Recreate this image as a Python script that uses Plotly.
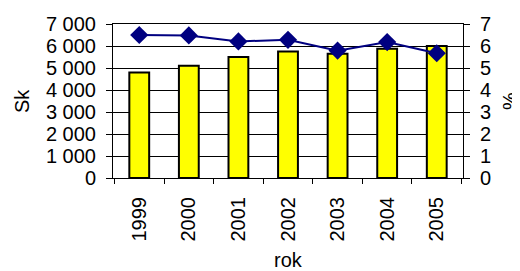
import plotly.graph_objects as go

years = ["1999", "2000", "2001", "2002", "2003", "2004", "2005"]
sk_values = [4800, 5100, 5500, 5750, 5650, 5880, 6000]
pct_values = [6.5, 6.48, 6.21, 6.28, 5.79, 6.18, 5.67]

FONT = "Liberation Sans, Arial, sans-serif"
font = dict(family=FONT, size=20, color="black")

fig = go.Figure()
fig.add_trace(go.Bar(
    x=years, y=sk_values,
    marker=dict(color="#FFFF00", line=dict(color="black", width=2)),
    yaxis="y", showlegend=False,
))
fig.add_trace(go.Scatter(
    x=years, y=pct_values, mode="lines+markers",
    line=dict(color="#000080", width=2),
    marker=dict(symbol="diamond", size=14, color="#000080"),
    yaxis="y2", showlegend=False,
))

fig.update_layout(
    width=512, height=263,
    margin=dict(l=105, r=57, t=16, b=93),
    paper_bgcolor="white", plot_bgcolor="white",
    font=font,
    separators=", ",
    bargap=0.6,
    xaxis=dict(
        type="category", tickson="boundaries", ticks="outside", ticklen=5,
        tickcolor="black", showline=True, linecolor="black", linewidth=1,
        mirror=True, tickangle=-90, showgrid=False, automargin=False,
        ticklabelstandoff=10,
    ),
    yaxis=dict(
        range=[0, 7000], dtick=1000, tickformat=",d",
        showgrid=True, gridcolor="black", gridwidth=1,
        ticks="outside", ticklen=6, tickcolor="black",
        showline=True, linecolor="black", linewidth=1,
        zeroline=False, automargin=False, ticklabelstandoff=6,
    ),
    yaxis2=dict(
        overlaying="y", side="right", range=[0, 7], dtick=1,
        showgrid=False, zeroline=False, automargin=False,
        ticks="outside", ticklen=6, tickcolor="black",
        showline=True, linecolor="black", linewidth=1,
        ticklabelstandoff=6,
    ),
    annotations=[
        dict(text="Sk", xref="paper", yref="paper", x=-0.26, y=0.5,
             xanchor="center", yanchor="middle", textangle=-90,
             showarrow=False, font=font),
        dict(text="%", xref="paper", yref="paper", x=1.134, y=0.5,
             xanchor="center", yanchor="middle", textangle=-90,
             showarrow=False, font=font),
        dict(text="rok", xref="paper", yref="paper", x=0.5, y=-0.53,
             xanchor="center", yanchor="middle",
             showarrow=False, font=font),
    ],
)

fig.write_html("out.html")
